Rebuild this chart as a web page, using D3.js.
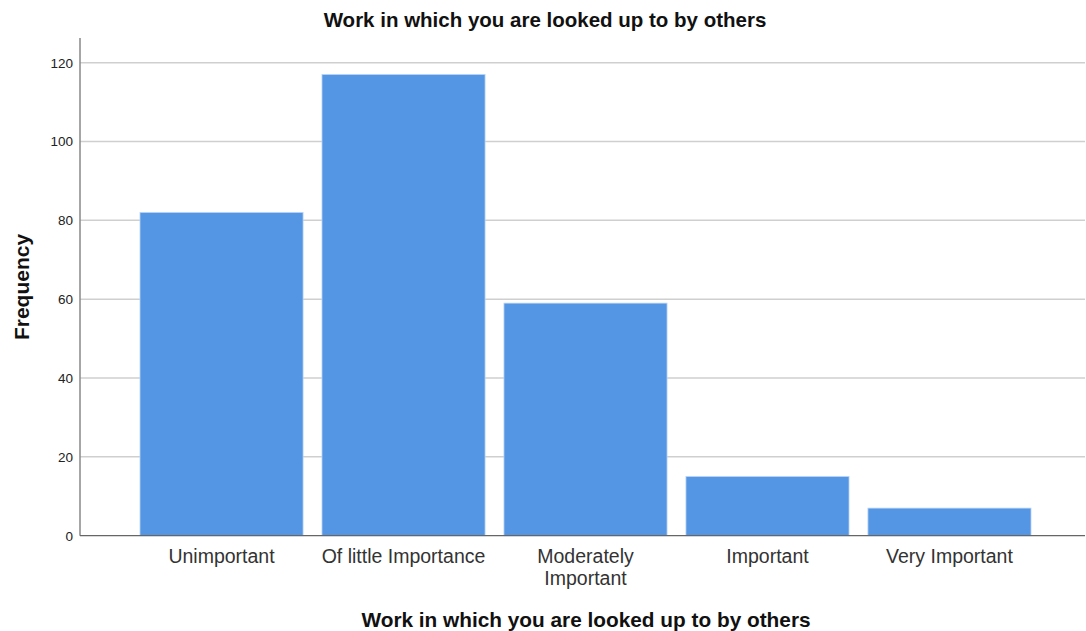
<!DOCTYPE html>
<html>
<head>
<meta charset="utf-8">
<script src="https://cdn.jsdelivr.net/npm/d3@7"></script>
<style>
  body { margin: 0; background: #fff; }
  svg { display: block; font-family: Arial, "Liberation Sans", sans-serif; }
</style>
</head>
<body>
<svg id="chart" width="1086" height="631"></svg>
<script>
// Responses to "Work in which you are looked up to by others"
const categories = ["Unimportant", "Of little Importance", "Moderately\nImportant", "Important", "Very Important"];
const frequencies = [82, 117, 59, 15, 7];
const yTicks = [0, 20, 40, 60, 80, 100, 120];

const svg = d3.select("#chart");

const x = d3.scaleBand()
  .domain(categories)
  .range([140, 1031])
  .paddingInner(0.104)
  .paddingOuter(0);

const y = d3.scaleLinear()
  .domain([0, 120])
  .range([535.7, 62.7]);

const axisX = 80, plotRight = 1085, axisTop = 38;

// horizontal gridlines
svg.append("g")
  .selectAll("line")
  .data(yTicks.filter(d => d > 0))
  .join("line")
  .attr("x1", axisX).attr("x2", plotRight)
  .attr("y1", d => y(d)).attr("y2", d => y(d))
  .attr("stroke", "#cfcfcf")
  .attr("stroke-width", 1.5);

// bars
svg.append("g")
  .selectAll("rect")
  .data(categories.map((c, i) => ({ c, v: frequencies[i] })))
  .join("rect")
  .attr("x", d => x(d.c))
  .attr("width", x.bandwidth())
  .attr("y", d => y(d.v))
  .attr("height", d => y(0) - y(d.v))
  .attr("fill", "#5596e4")
  .attr("stroke", "#b7d3f5")
  .attr("stroke-width", 0.8);

// y axis (labels only; the axis line is drawn separately)
const yAxis = d3.axisLeft(y).tickValues(yTicks).tickSize(0).tickPadding(7);
const gy = svg.append("g").attr("transform", `translate(${axisX},0)`).call(yAxis);
gy.select(".domain").remove();
gy.selectAll(".tick text").attr("font-size", 13.5).attr("fill", "#222")
  .attr("font-family", "Arial, 'Liberation Sans', sans-serif");
svg.append("line")
  .attr("x1", axisX).attr("x2", axisX)
  .attr("y1", axisTop).attr("y2", y(0))
  .attr("stroke", "#888").attr("stroke-width", 1.5);

// x baseline
svg.append("line")
  .attr("x1", axisX).attr("x2", plotRight)
  .attr("y1", y(0)).attr("y2", y(0))
  .attr("stroke", "#666").attr("stroke-width", 1.2);

// category labels
const lab = svg.append("g")
  .selectAll("text")
  .data(categories)
  .join("text")
  .attr("x", d => x(d) + x.bandwidth() / 2)
  .attr("y", 563)
  .attr("text-anchor", "middle")
  .attr("font-size", 19.5)
  .attr("fill", "#333");
lab.selectAll("tspan")
  .data(d => d.split("\n"))
  .join("tspan")
  .attr("x", function () { return d3.select(this.parentNode).attr("x"); })
  .attr("dy", (d, i) => i === 0 ? 0 : 21.5)
  .text(d => d);

// title
svg.append("text")
  .attr("x", 545).attr("y", 27)
  .attr("text-anchor", "middle")
  .attr("font-size", 20.5).attr("font-weight", "bold").attr("fill", "#111")
  .text("Work in which you are looked up to by others");

// x axis title
svg.append("text")
  .attr("x", 586).attr("y", 627)
  .attr("text-anchor", "middle")
  .attr("font-size", 20.8).attr("font-weight", "bold").attr("fill", "#111")
  .text("Work in which you are looked up to by others");

// y axis title
svg.append("text")
  .attr("transform", "translate(29,287) rotate(-90)")
  .attr("text-anchor", "middle")
  .attr("font-size", 21).attr("font-weight", "bold").attr("fill", "#111")
  .text("Frequency");
</script>
</body>
</html>
